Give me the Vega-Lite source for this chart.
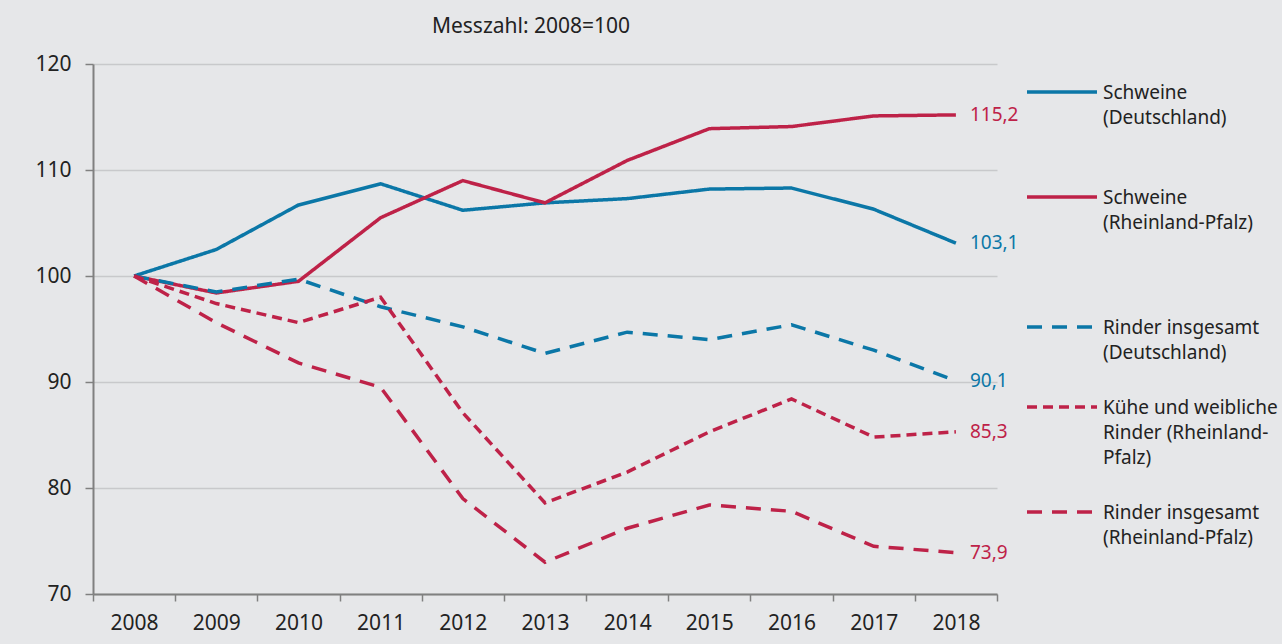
{
  "$schema": "https://vega.github.io/schema/vega-lite/v6.json",
  "width": 904,
  "height": 530,
  "autosize": {"type": "none"},
  "padding": {"left": 93, "top": 64, "right": 285, "bottom": 50},
  "background": "#e6e7e9",
  "title": {"text": "Messzahl: 2008=100", "fontSize": 21, "font": "Noto Sans", "fontWeight": "normal", "color": "#222222", "offset": 16, "dx": -14},
  "config": {
    "view": {"stroke": null},
    "font": "Noto Sans",
    "locale": {"number": {"decimal": ",", "thousands": ".", "grouping": [3], "currency": ["", " €"]}}
  },
  "data": {"values": [
    {"year": "2008", "series": "Schweine (Deutschland)", "value": 100},
    {"year": "2009", "series": "Schweine (Deutschland)", "value": 102.5},
    {"year": "2010", "series": "Schweine (Deutschland)", "value": 106.7},
    {"year": "2011", "series": "Schweine (Deutschland)", "value": 108.7},
    {"year": "2012", "series": "Schweine (Deutschland)", "value": 106.2},
    {"year": "2013", "series": "Schweine (Deutschland)", "value": 106.9},
    {"year": "2014", "series": "Schweine (Deutschland)", "value": 107.3},
    {"year": "2015", "series": "Schweine (Deutschland)", "value": 108.2},
    {"year": "2016", "series": "Schweine (Deutschland)", "value": 108.3},
    {"year": "2017", "series": "Schweine (Deutschland)", "value": 106.3},
    {"year": "2018", "series": "Schweine (Deutschland)", "value": 103.1},
    {"year": "2008", "series": "Schweine (Rheinland-Pfalz)", "value": 100},
    {"year": "2009", "series": "Schweine (Rheinland-Pfalz)", "value": 98.4},
    {"year": "2010", "series": "Schweine (Rheinland-Pfalz)", "value": 99.5},
    {"year": "2011", "series": "Schweine (Rheinland-Pfalz)", "value": 105.5},
    {"year": "2012", "series": "Schweine (Rheinland-Pfalz)", "value": 109.0},
    {"year": "2013", "series": "Schweine (Rheinland-Pfalz)", "value": 106.9},
    {"year": "2014", "series": "Schweine (Rheinland-Pfalz)", "value": 110.9},
    {"year": "2015", "series": "Schweine (Rheinland-Pfalz)", "value": 113.9},
    {"year": "2016", "series": "Schweine (Rheinland-Pfalz)", "value": 114.1},
    {"year": "2017", "series": "Schweine (Rheinland-Pfalz)", "value": 115.1},
    {"year": "2018", "series": "Schweine (Rheinland-Pfalz)", "value": 115.2},
    {"year": "2008", "series": "Rinder insgesamt (Deutschland)", "value": 100},
    {"year": "2009", "series": "Rinder insgesamt (Deutschland)", "value": 98.5},
    {"year": "2010", "series": "Rinder insgesamt (Deutschland)", "value": 99.7},
    {"year": "2011", "series": "Rinder insgesamt (Deutschland)", "value": 97.1},
    {"year": "2012", "series": "Rinder insgesamt (Deutschland)", "value": 95.2},
    {"year": "2013", "series": "Rinder insgesamt (Deutschland)", "value": 92.7},
    {"year": "2014", "series": "Rinder insgesamt (Deutschland)", "value": 94.7},
    {"year": "2015", "series": "Rinder insgesamt (Deutschland)", "value": 94.0},
    {"year": "2016", "series": "Rinder insgesamt (Deutschland)", "value": 95.4},
    {"year": "2017", "series": "Rinder insgesamt (Deutschland)", "value": 93.0},
    {"year": "2018", "series": "Rinder insgesamt (Deutschland)", "value": 90.1},
    {"year": "2008", "series": "Kühe und weibliche Rinder (Rheinland-Pfalz)", "value": 100},
    {"year": "2009", "series": "Kühe und weibliche Rinder (Rheinland-Pfalz)", "value": 97.4},
    {"year": "2010", "series": "Kühe und weibliche Rinder (Rheinland-Pfalz)", "value": 95.6},
    {"year": "2011", "series": "Kühe und weibliche Rinder (Rheinland-Pfalz)", "value": 98.0},
    {"year": "2012", "series": "Kühe und weibliche Rinder (Rheinland-Pfalz)", "value": 87.1},
    {"year": "2013", "series": "Kühe und weibliche Rinder (Rheinland-Pfalz)", "value": 78.6},
    {"year": "2014", "series": "Kühe und weibliche Rinder (Rheinland-Pfalz)", "value": 81.5},
    {"year": "2015", "series": "Kühe und weibliche Rinder (Rheinland-Pfalz)", "value": 85.3},
    {"year": "2016", "series": "Kühe und weibliche Rinder (Rheinland-Pfalz)", "value": 88.4},
    {"year": "2017", "series": "Kühe und weibliche Rinder (Rheinland-Pfalz)", "value": 84.8},
    {"year": "2018", "series": "Kühe und weibliche Rinder (Rheinland-Pfalz)", "value": 85.3},
    {"year": "2008", "series": "Rinder insgesamt (Rheinland-Pfalz)", "value": 100},
    {"year": "2009", "series": "Rinder insgesamt (Rheinland-Pfalz)", "value": 95.6},
    {"year": "2010", "series": "Rinder insgesamt (Rheinland-Pfalz)", "value": 91.8},
    {"year": "2011", "series": "Rinder insgesamt (Rheinland-Pfalz)", "value": 89.5},
    {"year": "2012", "series": "Rinder insgesamt (Rheinland-Pfalz)", "value": 79.0},
    {"year": "2013", "series": "Rinder insgesamt (Rheinland-Pfalz)", "value": 73.0},
    {"year": "2014", "series": "Rinder insgesamt (Rheinland-Pfalz)", "value": 76.2},
    {"year": "2015", "series": "Rinder insgesamt (Rheinland-Pfalz)", "value": 78.4},
    {"year": "2016", "series": "Rinder insgesamt (Rheinland-Pfalz)", "value": 77.8},
    {"year": "2017", "series": "Rinder insgesamt (Rheinland-Pfalz)", "value": 74.5},
    {"year": "2018", "series": "Rinder insgesamt (Rheinland-Pfalz)", "value": 73.9}
  ]},
  "encoding": {
    "x": {
      "field": "year", "type": "ordinal", "bandPosition": 0.5,
      "scale": {"type": "band", "paddingInner": 0, "paddingOuter": 0},
      "axis": {"title": null, "labelAngle": 0, "labelFontSize": 21, "labelColor": "#222222", "labelPadding": 11, "tickBand": "extent", "tickSize": 7, "tickColor": "#808080", "tickWidth": 1.5, "domainColor": "#808080", "domainWidth": 2, "grid": false}
    },
    "y": {
      "field": "value", "type": "quantitative",
      "scale": {"domain": [70, 120], "zero": false, "nice": false},
      "axis": {"title": null, "values": [70, 80, 90, 100, 110, 120], "labelFontSize": 21, "labelColor": "#222222", "labelPadding": 14, "tickSize": 8, "tickColor": "#808080", "tickWidth": 1.5, "domainColor": "#808080", "domainWidth": 2, "grid": true, "gridColor": "#c8c9cb", "gridWidth": 1.5}
    }
  },
  "layer": [
    {
      "mark": {"type": "line", "strokeWidth": 3.5},
      "encoding": {
        "color": {
          "field": "series", "type": "nominal",
          "scale": {
            "domain": ["Schweine (Deutschland)", "Schweine (Rheinland-Pfalz)", "Rinder insgesamt (Deutschland)", "Kühe und weibliche Rinder (Rheinland-Pfalz)", "Rinder insgesamt (Rheinland-Pfalz)"],
            "range": ["#0b77a7", "#be2248", "#0b77a7", "#be2248", "#be2248"]
          },
          "legend": {
            "title": null, "orient": "none", "legendX": 932, "legendY": -9, "padding": 0,
            "symbolType": "stroke", "symbolSize": 4900, "symbolStrokeWidth": 3.5,
            "labelFontSize": 19, "labelColor": "#222222", "labelLimit": 400, "labelOffset": 4,
            "labelBaseline": "alphabetic", "rowPadding": 7,
            "labelExpr": "datum.value == 'Schweine (Deutschland)' ? ['Schweine','(Deutschland)',' '] : datum.value == 'Schweine (Rheinland-Pfalz)' ? ['Schweine','(Rheinland-Pfalz)',' ',' '] : datum.value == 'Rinder insgesamt (Deutschland)' ? ['Rinder insgesamt','(Deutschland)'] : datum.value == 'Kühe und weibliche Rinder (Rheinland-Pfalz)' ? ['Kühe und weibliche','Rinder (Rheinland-','Pfalz)'] : ['Rinder insgesamt','(Rheinland-Pfalz)']",
            "encode": {"labels": {"update": {"lineHeight": {"value": 25}, "dy": {"value": 7}}}}
          }
        },
        "strokeDash": {
          "field": "series", "type": "nominal",
          "scale": {
            "domain": ["Schweine (Deutschland)", "Schweine (Rheinland-Pfalz)", "Rinder insgesamt (Deutschland)", "Kühe und weibliche Rinder (Rheinland-Pfalz)", "Rinder insgesamt (Rheinland-Pfalz)"],
            "range": [[1, 0], [1, 0], [15, 10], [10, 6], [15, 10]]
          },
          "legend": {"title": null}
        }
      }
    },
    {
      "transform": [{"filter": "datum.year == '2018'"}],
      "mark": {"type": "text", "align": "left", "baseline": "middle", "dx": 14, "fontSize": 19},
      "encoding": {
        "text": {"field": "value", "type": "quantitative", "format": ".1f"},
        "fill": {
          "field": "series", "type": "nominal",
          "scale": {
            "domain": ["Schweine (Deutschland)", "Schweine (Rheinland-Pfalz)", "Rinder insgesamt (Deutschland)", "Kühe und weibliche Rinder (Rheinland-Pfalz)", "Rinder insgesamt (Rheinland-Pfalz)"],
            "range": ["#0b77a7", "#be2248", "#0b77a7", "#be2248", "#be2248"]
          },
          "legend": null
        }
      }
    }
  ]
}
